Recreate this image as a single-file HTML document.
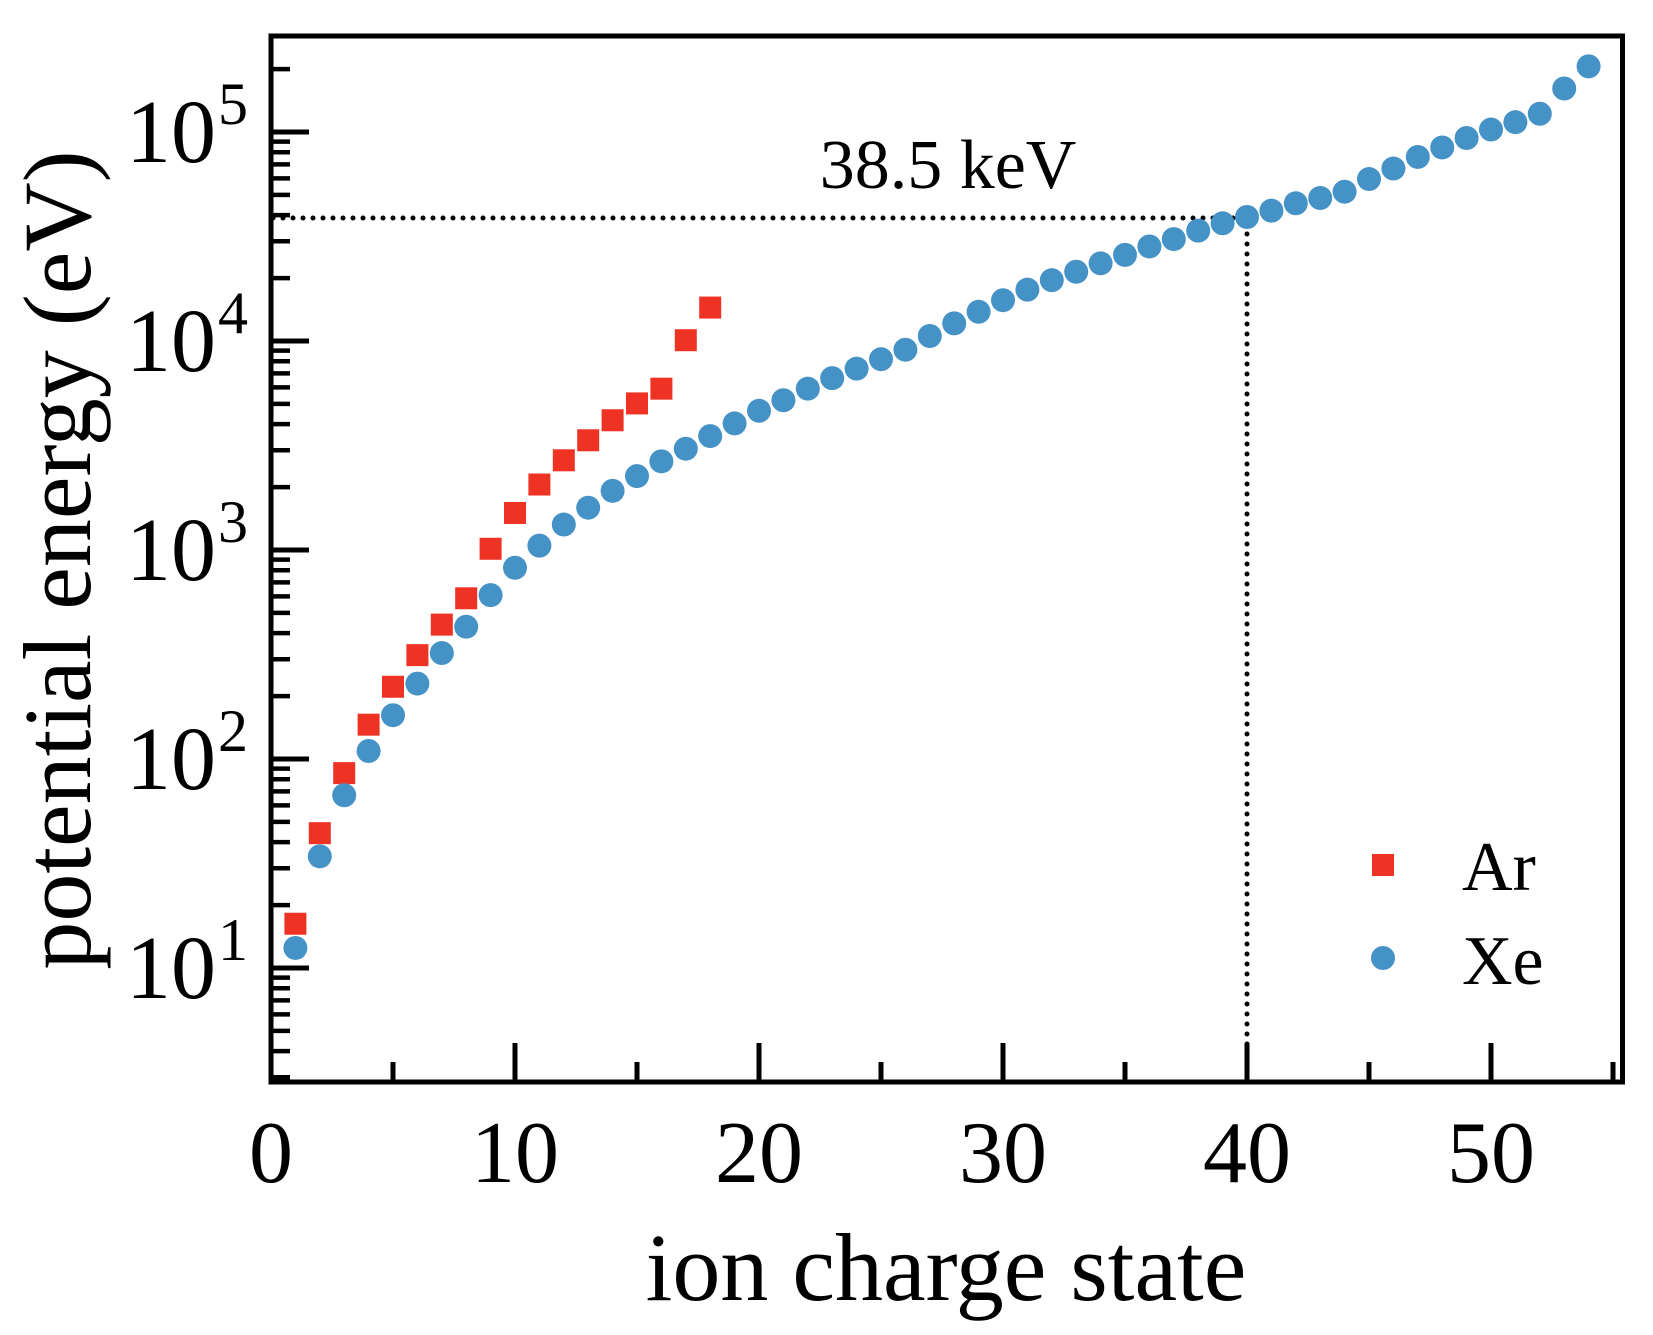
<!DOCTYPE html>
<html><head><meta charset="utf-8"><style>
html,body{margin:0;padding:0;background:#fff;}
svg{display:block;}
text{font-family:"Liberation Serif","DejaVu Serif",serif;fill:#000;}
</style></head><body>
<svg id="s" width="1653" height="1335" viewBox="0 0 1653 1335" xmlns="http://www.w3.org/2000/svg">
<g id="g"></g>
<text x="948" y="188" font-size="70" text-anchor="middle">38.5 keV</text>
<text x="946" y="1300" font-size="96" text-anchor="middle">ion charge state</text>
<text transform="translate(90,560) rotate(-90)" font-size="96" text-anchor="middle">potential energy (eV)</text>
<rect x="1372" y="854" width="22" height="22" fill="#ee3224"/>
<circle cx="1383" cy="958" r="12" fill="#4592c6"/>
<text x="1462" y="890" font-size="70">Ar</text>
<text x="1462" y="984" font-size="70">Xe</text>
</svg>
<script>
var g=document.getElementById('g'),NS='http://www.w3.org/2000/svg';
function el(t,a){var e=document.createElementNS(NS,t);for(var k in a)e.setAttribute(k,a[k]);g.appendChild(e);return e;}
var X0=271,XS=24.4,k=1.0533;
function X(v){return X0+v*XS;}
function Y(l){return 132+(5-l)*209;}
el('path',{d:'M273 218 H'+X(40)+' V1080',fill:'none',stroke:'#000','stroke-width':5,'stroke-dasharray':'0 10','stroke-linecap':'round'});
for(var d=0;d<=5;d++){for(var m=1;m<10;m++){var l=d+Math.log10(m);var y=Y(l);if(y<38||y>1080)continue;
el('line',{x1:271,x2:m==1?309:290,y1:y,y2:y,stroke:'#000','stroke-width':m==1?5:4.5});}}
for(var d=1;d<=5;d++){var y=Y(d);
var t=el('text',{x:216,y:y+30,'font-size':90,'text-anchor':'end'});t.textContent='10';
var s=el('text',{x:218,y:y-8,'font-size':60,'text-anchor':'start'});s.textContent=d;}
for(var v=0;v<=55;v+=5){var x=X(v);el('line',{x1:x,x2:x,y1:1082,y2:v%10==0?1043:1062,stroke:'#000','stroke-width':5});
if(v%10==0){var t=el('text',{x:x,y:1182,'font-size':88,'text-anchor':'middle'});t.textContent=v;}}
var ar=[877,791,734,688,652,622,593,568,521,487,460,437,418,399,383,369,323,292];
var xe=[900,813,755,713,679,649,620,595,565,539,518,498,482,466,452,438,426,414,402,390,380,369,359,350,341,332,319,307,296,285,275,266,258,250,242,234,227,219,212,206,200,193,188,182,170,160,149,140,131,123,116,108,84,63];
ar.forEach(function(y,i){el('rect',{x:X(i+1)-11,y:y*k-11,width:22,height:22,fill:'#ee3224'});});
xe.forEach(function(y,i){el('circle',{cx:X(i+1),cy:y*k,r:12,fill:'#4592c6'});});
el('rect',{x:271,y:36,width:1351.5,height:1046,fill:'none',stroke:'#000','stroke-width':5});
</script>
</body></html>
